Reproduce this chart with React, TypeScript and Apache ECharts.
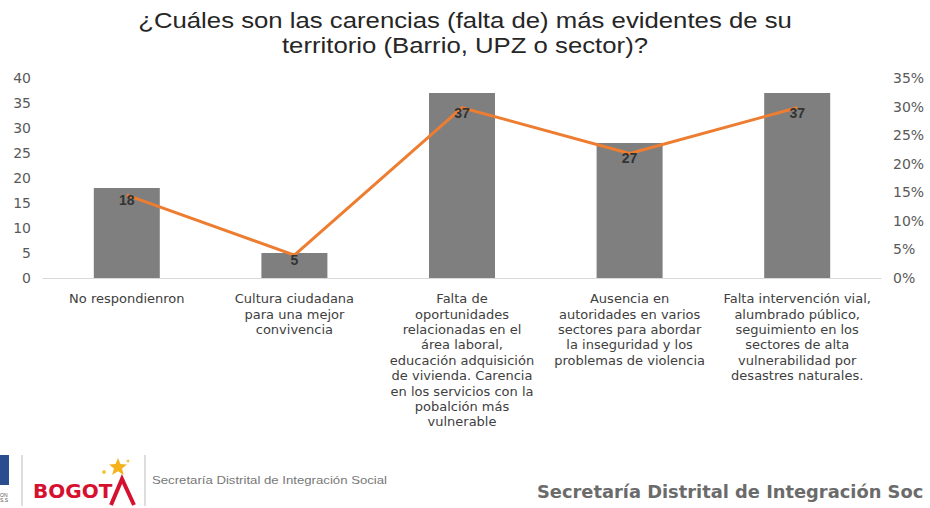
import React, { useEffect, useRef } from "react";
import * as echarts from "echarts";

const categories = [
  "No respondienron",
  "Cultura ciudadana\npara una mejor\nconvivencia",
  "Falta de\noportunidades\nrelacionadas en el\nárea laboral,\neducación adquisición\nde vivienda. Carencia\nen los servicios con la\npobalción más\nvulnerable",
  "Ausencia en\nautoridades en varios\nsectores para abordar\nla inseguridad y los\nproblemas de violencia",
  "Falta intervención vial,\nalumbrado público,\nseguimiento en los\nsectores de alta\nvulnerabilidad por\ndesastres naturales.",
];
const counts = [18, 5, 37, 27, 37];
const percents = [0.145, 0.04, 0.298, 0.218, 0.298];
const leftTicks = { min: 0, max: 40, interval: 5 };
const rightTicks = { min: 0, max: 0.35, interval: 0.05 };

const titleText = "¿Cuáles son las carencias (falta de) más evidentes de su\nterritorio (Barrio, UPZ o sector)?";
const footerSmall = "Secretaría Distrital de Integración Social";
const footerBig = "Secretaría Distrital de Integración Soc";

export default function App() {
  const ref = useRef<HTMLDivElement>(null);
  useEffect(() => {
    if (!ref.current) return;
    const chart = echarts.init(ref.current, undefined, { renderer: "svg" });
    const font = "Liberation Sans, Arial, sans-serif";
    const wide = "DejaVu Sans, sans-serif";
    chart.setOption({
      animation: false,
      backgroundColor: "#ffffff",
      textStyle: { fontFamily: font },
      grid: { left: 43, right: 49, top: 78, bottom: 230 },
      xAxis: {
        type: "category",
        data: categories,
        axisTick: { show: false },
        axisLine: { lineStyle: { color: "#d9d9d9", width: 1 } },
        axisLabel: { interval: 0, fontSize: 13, color: "#404040", lineHeight: 15.4, margin: 13, fontFamily: wide },
      },
      yAxis: [
        {
          type: "value",
          ...leftTicks,
          splitLine: { show: false },
          axisLine: { show: false },
          axisTick: { show: false },
          axisLabel: { fontSize: 14, color: "#595959", margin: 12, fontFamily: wide },
        },
        {
          type: "value",
          ...rightTicks,
          splitLine: { show: false },
          axisLine: { show: false },
          axisTick: { show: false },
          axisLabel: {
            fontSize: 14,
            color: "#595959",
            margin: 12,
            fontFamily: wide,
            formatter: (v: number) => Math.round(v * 100) + "%",
          },
        },
      ],
      series: [
        {
          type: "bar",
          data: counts,
          barWidth: 66,
          itemStyle: { color: "#7f7f7f" },
          yAxisIndex: 0,
        },
        {
          type: "line",
          data: percents,
          yAxisIndex: 1,
          showSymbol: true,
          symbol: "circle",
          symbolSize: 2,
          itemStyle: { color: "rgba(237,125,49,0)", borderWidth: 0 },
          lineStyle: { color: "#ed7d31", width: 3 },
          label: {
            show: true,
            position: "inside",
            offset: [0, 5],
            formatter: (p: any) => String(counts[p.dataIndex]),
            fontSize: 14,
            fontWeight: "bold",
            color: "#333333",
            fontFamily: font,
          },
          z: 3,
        },
      ],
      graphic: [
        {
          type: "text",
          x: 465,
          y: 8,
          scaleX: 1.17,
          style: {
            text: titleText,
            fontSize: 22,
            lineHeight: 25,
            fill: "#262626",
            fontFamily: font,
            align: "center",
            verticalAlign: "top",
          },
        },
        { type: "rect", shape: { x: 0, y: 455, width: 9, height: 30 }, style: { fill: "#2a4d8f" } },
        { type: "text", x: 0, y: 492, style: { text: "ON\nS.S", fontSize: 5, fill: "#555", fontFamily: font } },
        { type: "line", shape: { x1: 22, y1: 455, x2: 22, y2: 506 }, style: { stroke: "#bbbbbb", lineWidth: 1 } },
        {
          type: "text",
          x: 33,
          y: 481,
          style: { text: "BOGOT", fontSize: 20, fontWeight: "bold", fill: "#d6112f", fontFamily: wide },
        },
        {
          type: "polyline",
          shape: { points: [[111, 505], [122, 479], [134, 505]] },
          style: { stroke: "#d6112f", lineWidth: 4, fill: "none" },
        },
        {
          type: "polygon",
          shape: {
            points: [
              [118, 458], [120.5, 464], [127, 464.5], [122, 468.5], [123.8, 475],
              [118, 471.3], [112.2, 475], [114, 468.5], [109, 464.5], [115.5, 464],
            ],
          },
          style: { fill: "#f5b21b" },
        },
        { type: "circle", shape: { cx: 104, cy: 472, r: 2 }, style: { fill: "#f5c842" } },
        { type: "circle", shape: { cx: 128, cy: 461, r: 1.5 }, style: { fill: "#f5c842" } },
        { type: "line", shape: { x1: 145, y1: 455, x2: 145, y2: 506 }, style: { stroke: "#bbbbbb", lineWidth: 1 } },
        {
          type: "text",
          x: 152,
          y: 475,
          scaleX: 1.2,
          style: { text: footerSmall, fontSize: 11, fill: "#777777", fontFamily: font },
        },
        {
          type: "text",
          x: 537,
          y: 484,
          scaleX: 1.05,
          style: { text: footerBig, fontSize: 17, fontWeight: "bold", fill: "#6b6b6b", fontFamily: wide },
        },
      ],
    });
    return () => chart.dispose();
  }, []);
  return <div ref={ref} style={{ width: 930, height: 508, position: "absolute", left: 0, top: 0 }} />;
}
